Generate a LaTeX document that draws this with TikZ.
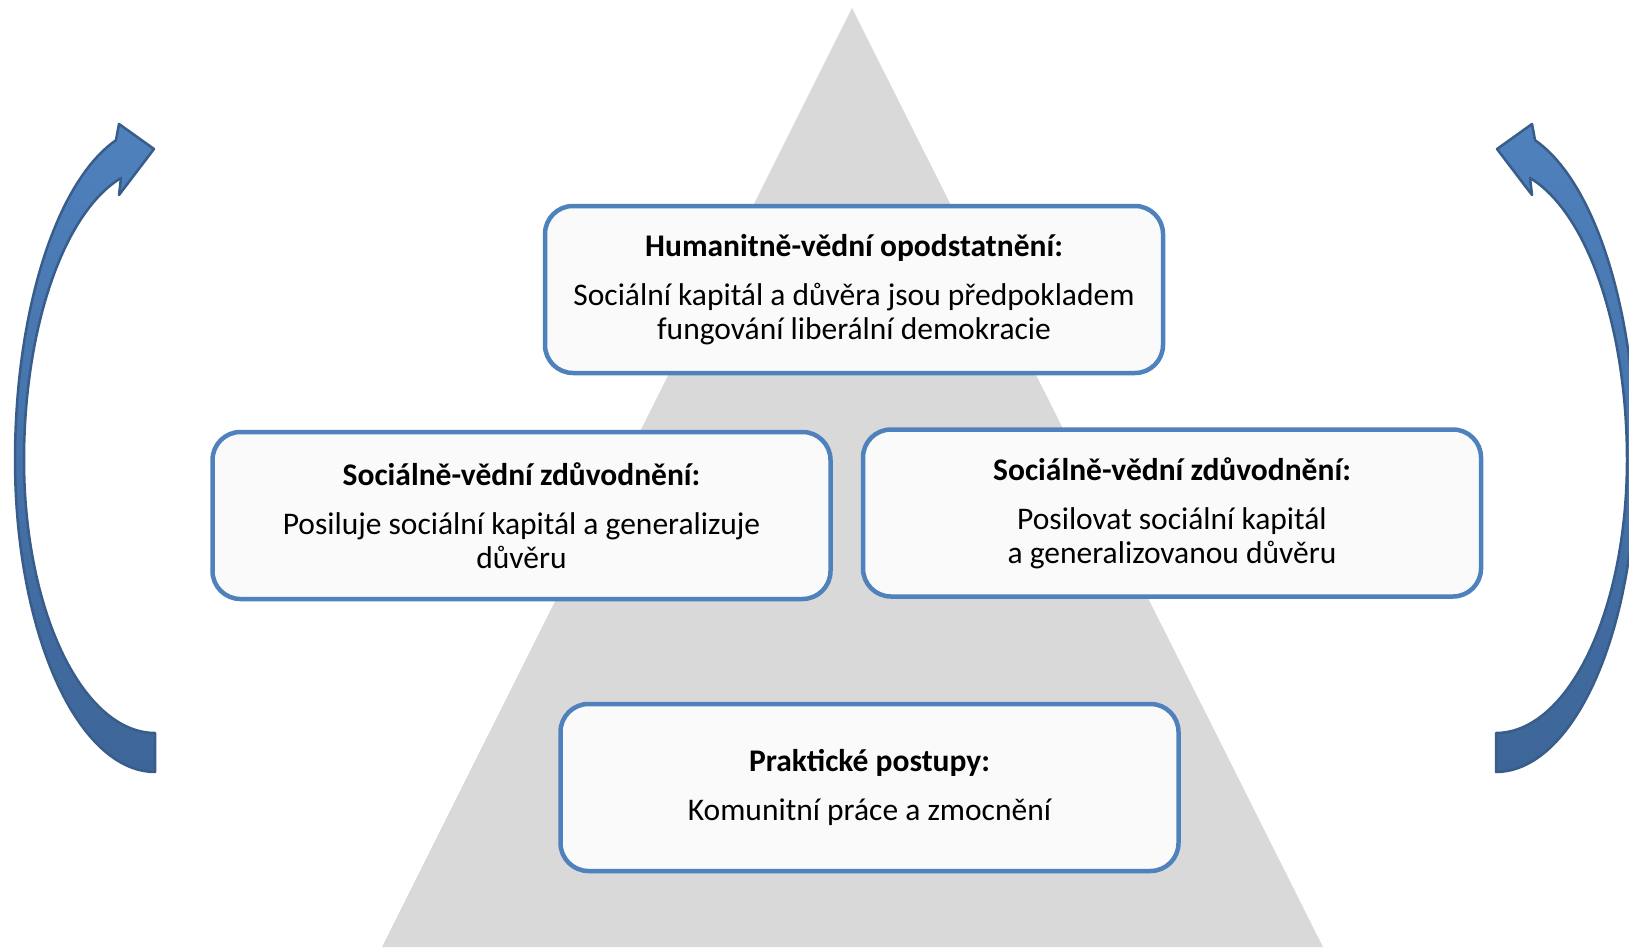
\documentclass[tikz,border=0pt]{standalone}
\usepackage{fontspec}
\setmainfont{Carlito}
\usepackage{tikz}
\usetikzlibrary{positioning, calc, shapes}
\definecolor{pyramidgray}{RGB}{217,217,217}
\definecolor{boxblue}{RGB}{79,129,189}
\definecolor{boxfill}{RGB}{250,250,250}
\definecolor{arrowtop}{RGB}{79,129,189}
\definecolor{arrowbottom}{RGB}{61,101,152}
\definecolor{arrowedge}{RGB}{56,93,138}

\tikzset{
	level/.style={draw=boxblue, fill=boxfill, line width=4.5pt, rounded corners=28pt,
		minimum width=618pt, minimum height=167pt, align=center, inner sep=0pt,
		font=\fontsize{31.5}{34}\selectfont},
	bentarrow/.style={draw=arrowedge, line width=2.5pt, line join=round,
		top color=arrowtop, bottom color=arrowbottom}
}

\begin{document}
\begin{tikzpicture}[x=1pt, y=-1pt]
		\useasboundingbox (0,0) rectangle (1629,947);
		\clip (0,0) rectangle (1629,947);
		% pyramid in the back
		\fill[pyramidgray] (852,8) -- (382,947) -- (1323,947) -- cycle;
		
		\node[level] (humanit) at (854,289.5) {\textbf{Humanitně-vědní opodstatnění:}\\[15pt]
			Sociální kapitál a důvěra jsou předpokladem\\ fungování liberální demokracie};
		\node[level] (socleft) at (521.5,515.5) {\textbf{Sociálně-vědní zdůvodnění:}\\[15pt]
			Posiluje sociální kapitál a generalizuje\\ důvěru};
		\node[level] (socright) at (1172,513) {\textbf{Sociálně-vědní zdůvodnění:}\\[15pt]
			Posilovat sociální kapitál\\ a generalizovanou důvěru};
		\node[level] (praxe) at (869.5,787.5) {\textbf{Praktické postupy:}\\[15pt]
			Komunitní práce a zmocnění};
		
		% curved arrows, the right one mirrored
		\foreach \side/\off in {1/0, -1/1651}{
			\begin{scope}[shift={(\off,0)}, xscale=\side]
				\draw[bentarrow] (155,772)
				-- plot[variable=\t, domain=90:180, samples=40] ({155+140*cos(\t)},{460+312*sin(\t)})
				-- plot[variable=\t, domain=180:253.8, samples=40] ({155+140*cos(\t)},{460+333*sin(\t)})
				-- (119,124) -- (154,149) -- (119,195) -- (121,178)
				-- plot[variable=\t, domain=254.9:180, samples=40] ({155+131*cos(\t)},{460+292*sin(\t)})
				-- plot[variable=\t, domain=180:90, samples=40] ({155+131*cos(\t)},{460+273*sin(\t)})
				-- cycle;
			\end{scope}
		}
\end{tikzpicture}
\end{document}
